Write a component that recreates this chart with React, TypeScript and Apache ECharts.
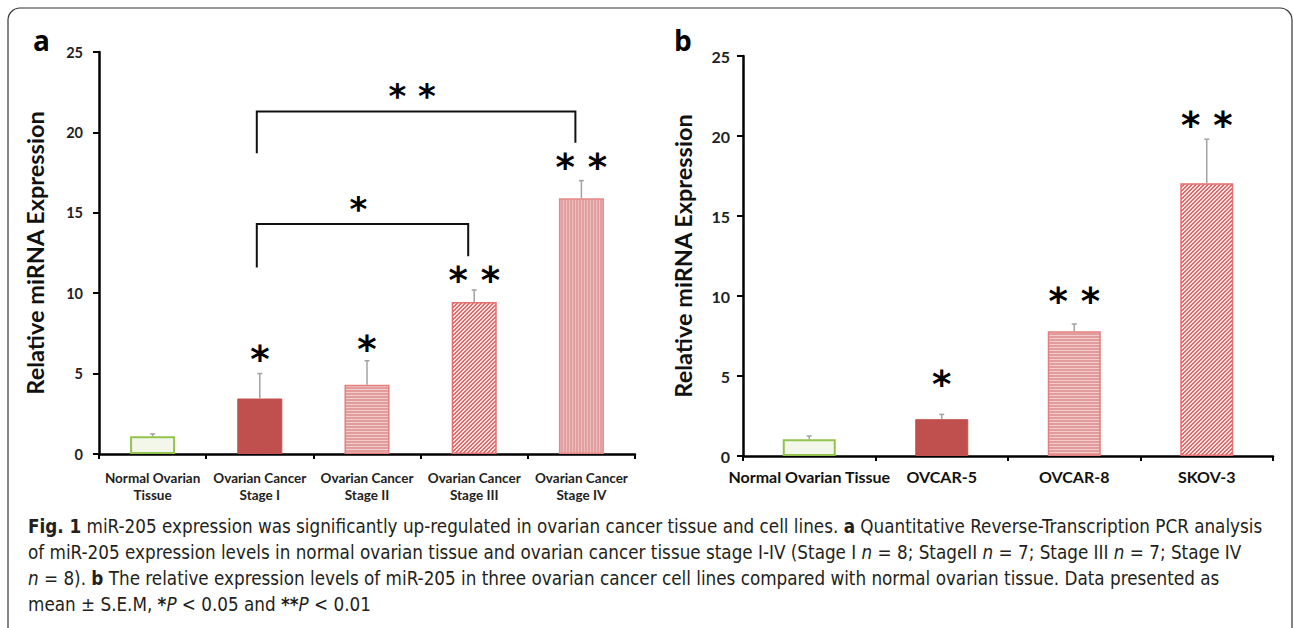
import React, { useEffect, useRef } from "react";
import * as echarts from "echarts";

const categoriesA = ["Normal Ovarian\nTissue", "Ovarian Cancer\nStage I", "Ovarian Cancer\nStage II", "Ovarian Cancer\nStage III", "Ovarian Cancer\nStage IV"];
const valuesA = [1.1, 3.45, 4.3, 9.45, 15.9];
const errorsA = [0.15, 1.55, 1.5, 0.75, 1.1];
const starsA = ["", "*", "*", "* *", "* *"];
const starPosA = [0, 6.2, 6.8, 11.1, 18.1];

const categoriesB = ["Normal Ovarian Tissue", "OVCAR-5", "OVCAR-8", "SKOV-3"];
const valuesB = [1.05, 2.3, 7.8, 17.05];
const errorsB = [0.2, 0.3, 0.45, 2.75];
const starsB = ["", "*", "* *", "* *"];
const starPosB = [0, 4.8, 10.0, 21.0];

const yTicks = [0, 5, 10, 15, 20, 25];

// brackets: [fromIndex, toIndex, topValue, leftBottom, rightBottom, labelValue]
const bracketsA = [
  [1, 4, 21.3, 18.7, 19.35, 22.5],
  [1, 3, 14.3, 11.6, 12.3, 15.5],
];
const bracketLabelsA = ["* *", "*"];

function pattern(w: number, h: number, draw: (ctx: CanvasRenderingContext2D) => void) {
  const c = document.createElement("canvas");
  c.width = w;
  c.height = h;
  const ctx = c.getContext("2d")!;
  draw(ctx);
  return { image: c, repeat: "repeat" } as any;
}

export default function App() {
  const ref = useRef<HTMLDivElement>(null);
  useEffect(() => {
    if (!ref.current) return;
    const chart = echarts.init(ref.current, null, { renderer: "svg" });

    const hStripe = pattern(4, 3, (ctx) => {
      ctx.fillStyle = "#e39c9c";
      ctx.fillRect(0, 0, 4, 3);
      ctx.fillStyle = "#f2cccc";
      ctx.fillRect(0, 2, 4, 1);
    });
    const vStripe = pattern(3, 4, (ctx) => {
      ctx.fillStyle = "#e3a0a0";
      ctx.fillRect(0, 0, 3, 4);
      ctx.fillStyle = "#eebcbc";
      ctx.fillRect(2, 0, 1, 4);
    });
    const diag = pattern(4, 4, (ctx) => {
      ctx.fillStyle = "#fbe4e4";
      ctx.fillRect(0, 0, 4, 4);
      ctx.fillStyle = "#e06a6a";
      for (let i = 0; i < 4; i++) {
        ctx.fillRect(i, 3 - i, 1, 1);
        ctx.fillRect(i, (4 - i) % 4, 1, 1);
      }
    });

    const styleNormal = { color: "#f3f7ea", borderColor: "#92c34f", borderWidth: 2 };
    const styleSolid = { color: "#c0504d", borderColor: "#c0504d", borderWidth: 1 };
    const styleH = { color: hStripe, borderColor: "#e57e7e", borderWidth: 1.5 };
    const styleV = { color: vStripe, borderColor: "#e58888", borderWidth: 1.5 };
    const styleD = { color: diag, borderColor: "#e57070", borderWidth: 1.5 };

    const stylesA = [styleNormal, styleSolid, styleH, styleD, styleV];
    const stylesB = [styleNormal, styleSolid, styleH, styleD];

    const font = "Lato, 'Open Sans', sans-serif";
    const starFont = "'DejaVu Sans', sans-serif";
    const errRender = (params: any, api: any) => {
      const x = api.value(0);
      const v = api.value(1);
      const e = api.value(2);
      const p0 = api.coord([x, v]);
      const p1 = api.coord([x, v + e]);
      return {
        type: "group",
        children: [
          { type: "line", shape: { x1: p0[0], y1: p0[1], x2: p1[0], y2: p1[1] }, style: { stroke: "#a3a3a3", lineWidth: 1.5 } },
          { type: "line", shape: { x1: p1[0] - 2.5, y1: p1[1], x2: p1[0] + 2.5, y2: p1[1] }, style: { stroke: "#a3a3a3", lineWidth: 1.5 } },
        ],
      };
    };
    const makeStarRender = (labels: string[]) => (params: any, api: any) => {
      const idx = api.value(0);
      const p = api.coord([idx, api.value(1)]);
      const txt = labels[idx];
      if (!txt) return null;
      return {
        type: "text",
        x: p[0],
        y: p[1] + 5,
        style: { text: txt, fontSize: 37, fontWeight: "bold", fontFamily: starFont, fill: "#000", align: "center", verticalAlign: "middle" },
      };
    };
    const bracketRender = (params: any, api: any) => {
      const i0 = api.value(0), i1 = api.value(1);
      const top = api.value(2), lb = api.value(3), rb = api.value(4), lv = api.value(5);
      const pL = api.coord([i0, top]);
      const pR = api.coord([i1, top]);
      const pLb = api.coord([i0, lb]);
      const pRb = api.coord([i1, rb]);
      const pLab = api.coord([i0, lv]);
      const xl = pL[0] - 3, xr = pR[0] - 6;
      return {
        type: "group",
        children: [
          { type: "polyline", shape: { points: [[xl, pLb[1]], [xl, pL[1]], [xr, pR[1]], [xr, pRb[1]]] }, style: { stroke: "#111", lineWidth: 2, fill: "none" } },
          { type: "text", x: (xl + xr) / 2 - 4, y: pLab[1] + 4, style: { text: bracketLabelsA[params.dataIndex], fontSize: 34, fontWeight: "bold", fontFamily: starFont, fill: "#000", align: "center", verticalAlign: "middle" } },
        ],
      };
    };

    const yAxisCommon = (gridIndex: number, nameGap: number, labelSize: number, margin: number) => ({
      type: "value",
      gridIndex,
      min: yTicks[0],
      max: yTicks[yTicks.length - 1],
      interval: 5,
      name: "Relative miRNA Expression",
      nameLocation: "middle",
      nameRotate: 90,
      nameGap,
      nameTextStyle: { fontSize: 23.5, fontWeight: "bold", fontFamily: font, color: "#111" },
      axisLine: { show: true, lineStyle: { color: "#000", width: 2.5 } },
      axisTick: { show: true, length: 6, lineStyle: { color: "#000", width: 2 } },
      splitLine: { show: false },
      axisLabel: { fontSize: labelSize, fontWeight: "bold", fontFamily: font, color: "#222", margin },
    });

    const captionFont = "'Liberation Sans Narrow', 'DejaVu Sans Condensed', sans-serif";
    const option: any = {
      animation: false,
      backgroundColor: "#fff",
      grid: [
        { left: 99, top: 52, width: 536, height: 402 },
        { left: 743, top: 56, width: 530, height: 400 },
      ],
      xAxis: [
        {
          type: "category",
          gridIndex: 0,
          data: categoriesA,
          axisLine: { lineStyle: { color: "#000", width: 2.5 } },
          axisTick: { show: true, length: 5, lineStyle: { color: "#000", width: 2 } },
          axisLabel: { interval: 0, fontSize: 13.5, lineHeight: 17, fontWeight: "bold", fontFamily: font, color: "#222", margin: 15 },
        },
        {
          type: "category",
          gridIndex: 1,
          data: categoriesB,
          axisLine: { lineStyle: { color: "#000", width: 2.5 } },
          axisTick: { show: true, length: 5, lineStyle: { color: "#000", width: 2 } },
          axisLabel: { interval: 0, fontSize: 16, fontWeight: "bold", fontFamily: font, color: "#111", margin: 12 },
        },
      ],
      yAxis: [yAxisCommon(0, 52, 14.5, 16), yAxisCommon(1, 48, 16, 13)],
      series: [
        {
          type: "bar",
          xAxisIndex: 0,
          yAxisIndex: 0,
          barWidth: "42%",
          data: valuesA.map((v, i) => ({ value: v, itemStyle: stylesA[i] })),
        },
        {
          type: "bar",
          xAxisIndex: 1,
          yAxisIndex: 1,
          barWidth: "40%",
          data: valuesB.map((v, i) => ({ value: v, itemStyle: stylesB[i] })),
        },
        {
          type: "custom",
          xAxisIndex: 0,
          yAxisIndex: 0,
          renderItem: errRender,
          z: 3,
          data: valuesA.map((v, i) => [i, v, errorsA[i]]),
        },
        {
          type: "custom",
          xAxisIndex: 1,
          yAxisIndex: 1,
          renderItem: errRender,
          z: 3,
          data: valuesB.map((v, i) => [i, v, errorsB[i]]),
        },
        {
          type: "custom",
          xAxisIndex: 0,
          yAxisIndex: 0,
          renderItem: makeStarRender(starsA),
          z: 4,
          data: starPosA.map((p, i) => [i, p]),
        },
        {
          type: "custom",
          xAxisIndex: 1,
          yAxisIndex: 1,
          renderItem: makeStarRender(starsB),
          z: 4,
          data: starPosB.map((p, i) => [i, p]),
        },
        {
          type: "custom",
          xAxisIndex: 0,
          yAxisIndex: 0,
          renderItem: bracketRender,
          z: 4,
          data: bracketsA,
        },
      ],
      graphic: [
        { type: "rect", shape: { x: 8, y: 8, width: 1284, height: 640, r: 12 }, style: { fill: "none", stroke: "#333", lineWidth: 1.2 }, silent: true },
        { type: "text", x: 33, y: 40, style: { text: "a", fontSize: 28, fontWeight: "bold", fontFamily: "'Open Sans', sans-serif", fill: "#000", verticalAlign: "middle" } },
        { type: "text", x: 674, y: 40, style: { text: "b", fontSize: 28, fontWeight: "bold", fontFamily: "'Open Sans', sans-serif", fill: "#000", verticalAlign: "middle" } },
        {
          type: "text",
          x: 28,
          y: 513,
          style: {
            text:
              "{b|Fig. 1} miR-205 expression was significantly up-regulated in ovarian cancer tissue and cell lines. {b|a} Quantitative Reverse-Transcription PCR analysis\n" +
              "of miR-205 expression levels in normal ovarian tissue and ovarian cancer tissue stage I-IV (Stage I {i|n} = 8; StageII {i|n} = 7; Stage III {i|n} = 7; Stage IV\n" +
              "{i|n} = 8). {b|b} The relative expression levels of miR-205 in three ovarian cancer cell lines compared with normal ovarian tissue. Data presented as\n" +
              "mean ± S.E.M, {b|*}{i|P} < 0.05 and {b|**}{i|P} < 0.01",
            fontSize: 18.7,
            lineHeight: 26,
            fontFamily: captionFont,
            fill: "#231f20",
            rich: {
              b: { fontWeight: "bold", fontSize: 18.7, lineHeight: 26, fontFamily: captionFont, fill: "#231f20" },
              i: { fontStyle: "italic", fontSize: 18.7, lineHeight: 26, fontFamily: captionFont, fill: "#231f20" },
            },
          },
        },
      ],
    };
    chart.setOption(option);
    return () => chart.dispose();
  }, []);
  return <div ref={ref} style={{ position: "absolute", left: 0, top: 0, width: 1293, height: 628 }} />;
}
